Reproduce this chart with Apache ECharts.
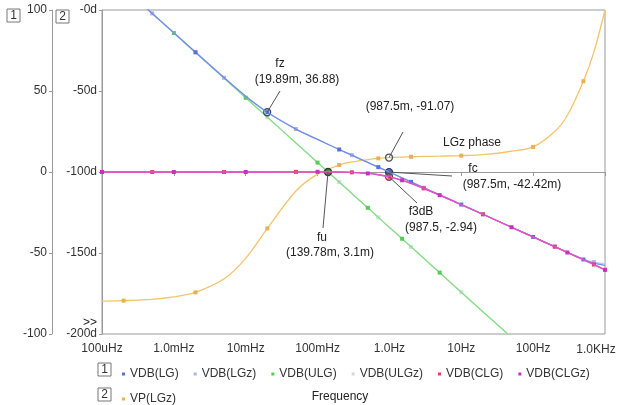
<!DOCTYPE html>
<html><head><meta charset="utf-8">
<script src="https://cdn.jsdelivr.net/npm/echarts@6/dist/echarts.min.js"></script>
<style>html,body{margin:0;padding:0;background:#fff}#c{width:617px;height:405px}</style>
</head><body><div id="c"></div>
<script>
// ---- data ----
const freq = [1e-4,2e-4,5e-4,1e-3,2e-3,5e-3,1e-2,2e-2,5e-2,0.1,0.2,0.3,0.5,0.7,1,1.5,2,3,5,10,20,50,100,200,300,500,700,1000];
const vdbLG   = [125.9,113.8,97.9,85.9,73.9,58.2,46.8,36.9,26.5,20.1,13.9,10.4,5.9,3.0,-0.1,-3.6,-6.1,-9.7,-14.1,-20.1,-26.1,-34.1,-40.1,-46.1,-49.6,-54.0,-56.2,-57.6];
const vdbLGz  = [125.9,113.8,97.9,85.9,73.9,58.2,46.8,36.9,26.5,20.1,13.9,10.4,5.9,3.0,-0.1,-3.6,-6.1,-9.7,-14.1,-20.1,-26.1,-34.1,-40.1,-46.0,-49.4,-53.7,-55.6,-56.6];
const vdbULG  = [125.8,113.8,97.9,85.8,73.8,57.9,45.8,33.8,17.9,5.8,-6.2,-13.3,-22.1,-28.0,-34.2,-41.2,-46.2,-53.3,-62.1,-74.2,-86.2,-102.1,-114.2,-126.2,-133.3,-142.1,-148.0,-154.2];
const vdbULGz = [125.8,113.8,97.9,85.8,73.8,57.9,45.8,33.8,17.9,5.8,-6.2,-13.3,-22.1,-28.0,-34.2,-41.2,-46.2,-53.3,-62.1,-74.2,-86.2,-102.1,-114.2,-126.2,-133.3,-142.1,-148.0,-154.2];
const vdbCLG  = [0,0,0,0,0,0,0,0,0.1,0.1,0,-0.2,-0.9,-1.7,-3.0,-5.1,-7.0,-10.1,-14.3,-20.2,-26.1,-34.1,-40.1,-46.1,-49.7,-54.1,-57.1,-60.4];
const vdbCLGz = [0,0,0,0,0,0,0,0,0.1,0.1,0,-0.2,-0.9,-1.7,-3.0,-5.1,-7.0,-10.1,-14.3,-20.2,-26.1,-34.1,-40.1,-46.1,-49.7,-54.1,-57.1,-60.4];
const vpLGz   = [-179.7,-179.4,-178.6,-177.1,-174.3,-165.9,-153.3,-134.8,-111.7,-101.3,-95.7,-93.8,-92.3,-91.6,-91.1,-90.8,-90.6,-90.4,-90.2,-89.9,-89.3,-87.2,-84.5,-75.0,-65.0,-44.0,-26.0,0];
const xTickLabels = ['100uHz','1.0mHz','10mHz','100mHz','1.0Hz','10Hz','100Hz','1.0KHz'];
const seriesNames = ['VDB(LG)','VDB(LGz)','VDB(ULG)','VDB(ULGz)','VDB(CLG)','VDB(CLGz)','VP(LGz)'];
// cursor readouts
const cursors = {
  fz:   {f: 0.01989, v: 36.88},
  ph:   {f: 0.9875,  v: -91.07},
  fc:   {f: 0.9875,  v: -0.04242},
  f3dB: {f: 0.9875,  v: -2.94},
  fu:   {f: 0.13978, v: 0.0031}
};

const FONT = 'Liberation Sans, Arial, sans-serif';
const colors = ['#6f8fe6','#c6c6f0','#86df86','#dde8dd','#f0607e','#e050d6','#f5c46a'];
const markerColors = ['#5672d8','#b0b0ea','#55cc55','#cfdccf','#e8405e','#c830c0','#e8b050'];

function mk(arr, offset) {
  return freq.map((f, i) => ({
    value: [f, arr[i]],
    symbolSize: (i % 3 === offset) ? 4 : 0
  }));
}
const arrays = [vdbLG, vdbLGz, vdbULG, vdbULGz, vdbCLG, vdbCLGz, vpLGz];
const offsets = [1, 2, 0, 1, 2, 0, 1];
const ring = (c) => ({symbol:'circle', symbolSize:7, itemStyle:{color:'rgba(255,255,255,0)', borderColor:c, borderWidth:1.3}, label:{show:false}});

const series = arrays.map((arr, k) => ({
  name: seriesNames[k], type: 'line', yAxisIndex: k === 6 ? 1 : 0,
  data: mk(arr, offsets[k]), smooth: 0.3, clip: true,
  showSymbol: true, showAllSymbol: true, symbol: 'rect',
  lineStyle: {color: colors[k], width: 1.3},
  itemStyle: {color: markerColors[k]},
  z: [5,4,3,2,6,7,1][k], silent: true, animation: false
}));
series[0].markPoint = Object.assign(ring('#3a4a70'), {data:[
  {coord:[cursors.fz.f, cursors.fz.v]}, {coord:[cursors.fc.f, cursors.fc.v], itemStyle:{color:'rgba(40,50,120,0.6)', borderColor:'#2a3470', borderWidth:1.3}}]});
series[4].markPoint = Object.assign(ring('#704050'), {data:[{coord:[cursors.f3dB.f, cursors.f3dB.v]}]});
series[5].markPoint = Object.assign(ring('#2a4a2a'), {data:[{coord:[cursors.fu.f, cursors.fu.v], itemStyle:{color:'rgba(40,90,40,0.7)', borderColor:'#2a402a', borderWidth:1.3}}]});
series[6].markPoint = Object.assign(ring('#555555'), {data:[{coord:[cursors.ph.f, cursors.ph.v]}]});

const axisGray = '#9a9a9a';
const labelStyle = {color:'#333', fontSize:12, fontFamily:FONT};

const chart = echarts.init(document.getElementById('c'), null, {renderer:'canvas'});
chart.setOption({
  animation: false,
  backgroundColor: '#fff',
  grid: {left:102, right:12, top:10, bottom:71, show:true, borderColor:axisGray, borderWidth:1, backgroundColor:'#fff',
         containLabel:false, outerBoundsMode:'none'},
  xAxis: {
    type:'log', logBase:10, min:1e-4, max:1000,
    axisLine:{show:true, lineStyle:{color:axisGray}},
    axisTick:{show:true, length:4, inside:false, lineStyle:{color:axisGray}},
    minorTick:{show:false}, splitLine:{show:false},
    axisLabel: Object.assign({margin:9, hideOverlap:false,
      formatter: v => { const i = Math.round(Math.log10(v)) + 4; return i === xTickLabels.length - 1 ? '' : (xTickLabels[i] || ''); }}, labelStyle)
  },
  yAxis: [
    {type:'value', position:'left', offset:50, min:-100, max:100, interval:50,
     axisLine:{show:true, onZero:false, lineStyle:{color:axisGray}},
     axisTick:{show:true, length:3, lineStyle:{color:axisGray}}, splitLine:{show:false},
     axisLabel: Object.assign({margin:5}, labelStyle)},
    {type:'value', position:'left', offset:0, min:-200, max:0, interval:50,
     axisLine:{show:true, onZero:false, lineStyle:{color:axisGray}},
     axisTick:{show:true, length:3, lineStyle:{color:axisGray}}, splitLine:{show:false},
     axisLabel: Object.assign({margin:5, formatter: v => (v === 0 ? '-0d' : v + 'd')}, labelStyle)}
  ],
  legend: [
    {data: seriesNames.slice(0,6), left:117, top:363, orient:'horizontal', icon:'rect', itemWidth:3, itemHeight:3, itemGap:15, selectedMode:false,
     textStyle:{color:'#333', fontSize:12, fontFamily:FONT}},
    {data: [seriesNames[6]], left:117, top:388, icon:'rect', itemWidth:3, itemHeight:3, selectedMode:false,
     textStyle:{color:'#333', fontSize:12, fontFamily:FONT}}
  ],
  series: series
});

function box(x, y, t) {
  return {type:'group', children:[
    {type:'rect', shape:{x:x, y:y, width:13, height:13}, style:{fill:'#fff', stroke:'#777', lineWidth:1}},
    {type:'text', x:x+6.5, y:y+7, style:{text:t, fill:'#333', font:'12px '+FONT, align:'center', verticalAlign:'middle'}}
  ]};
}
function txt(x, y, t, align, color) {
  return {type:'text', x:x, y:y, style:{text:t, fill:color||'#222', font:'12px '+FONT, align:align||'center', verticalAlign:'middle'}, z:100};
}
function leader(c, axisIdx, x2, y2) {
  const p = chart.convertToPixel({xAxisIndex:0, yAxisIndex:axisIdx}, [c.f, c.v]);
  return {type:'line', shape:{x1:p[0], y1:p[1], x2:x2, y2:y2}, style:{stroke:'#555', lineWidth:1}, z:99};
}
const lastTick = chart.convertToPixel({xAxisIndex:0}, 1000);

chart.setOption({graphic: [
  box(7, 9, '1'), box(56, 10, '2'),
  box(98, 363, '1'), box(98, 388, '2'),
  txt(90, 323, '>>'),
  txt(lastTick - 9, 350, xTickLabels[xTickLabels.length - 1], 'center', '#333'),
  txt(280, 64, 'fz'), txt(297, 80, '(19.89m, 36.88)'),
  leader(cursors.fz, 0, 280, 91),
  txt(410, 107, '(987.5m, -91.07)'),
  leader(cursors.ph, 1, 403, 132),
  txt(472, 143, 'LGz phase'),
  txt(473, 169, 'fc'), txt(512, 185, '(987.5m, -42.42m)'),
  leader(cursors.fc, 0, 452, 176),
  txt(421, 212, 'f3dB'), txt(441, 228, '(987.5, -2.94)'),
  leader(cursors.f3dB, 0, 417, 203),
  txt(322, 238, 'fu'), txt(330, 253, '(139.78m, 3.1m)'),
  leader(cursors.fu, 0, 323, 228),
  txt(340, 397, 'Frequency')
]});
</script></body></html>
